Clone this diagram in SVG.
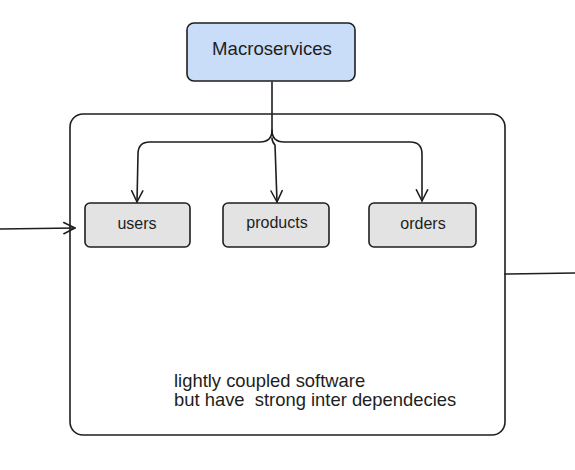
<svg xmlns="http://www.w3.org/2000/svg" width="575" height="470" viewBox="0 0 575 470">
<style>
.box{stroke:#1e1e1e;stroke-width:1.6;}
.svc{fill:#e3e3e3;}
.lbl{font-family:"Liberation Sans",Arial,sans-serif;fill:#1e1e1e;text-anchor:middle;}
.ln{fill:none;stroke:#1e1e1e;stroke-width:1.6;stroke-linecap:round;stroke-linejoin:round;}
</style>
<defs>
<marker id="ah" viewBox="0 0 20 20" refX="18" refY="10" markerWidth="14" markerHeight="14" markerUnits="userSpaceOnUse" orient="auto">
<path d="M2,2 L18,10 L2,18" fill="none" stroke="#1e1e1e" stroke-width="2.2" stroke-linecap="round" stroke-linejoin="round"/>
</marker>
</defs>
<rect width="575" height="470" fill="#ffffff"/>
<g id="container">
<rect x="70" y="114" width="435" height="321" rx="13" fill="none" class="box"/>
<text x="174" y="387" font-family="Liberation Sans, Arial, sans-serif" font-size="18.4" fill="#1e1e1e">lightly coupled software</text>
<text x="174" y="406" font-family="Liberation Sans, Arial, sans-serif" font-size="18.4" fill="#1e1e1e" xml:space="preserve">but have  strong inter dependecies</text>
</g>
<g id="macroservices">
<rect x="187" y="23" width="168" height="58" rx="7" fill="#c9dcf8" class="box"/>
<text x="272" y="55" class="lbl" font-size="18.6">Macroservices</text>
</g>
<g id="users">
<rect x="85" y="203" width="105" height="44" rx="5" class="box svc"/>
<text x="137" y="229" class="lbl" font-size="16">users</text>
</g>
<g id="products">
<rect x="223" y="203" width="106" height="44" rx="5" class="box svc"/>
<text x="277" y="228" class="lbl" font-size="16">products</text>
</g>
<g id="orders">
<rect x="369" y="203" width="107" height="44" rx="5" class="box svc"/>
<text x="423" y="229" class="lbl" font-size="16">orders</text>
</g>
<g id="connectors">
<path class="ln" d="M272,82 L272,130 Q272,142 260,142 L150,142 Q138,142 138,154 L137,202" marker-end="url(#ah)"/>
<path class="ln" d="M272,130 Q272,142 284,142 L410,142 Q422,142 422,154 L422,201" marker-end="url(#ah)"/>
<path class="ln" d="M272,138 Q272,142 275,145 L277,202" marker-end="url(#ah)"/>
<path class="ln" d="M0,229 L75,228" marker-end="url(#ah)"/>
<path class="ln" d="M505,274 L575,273"/>
</g>
</svg>
